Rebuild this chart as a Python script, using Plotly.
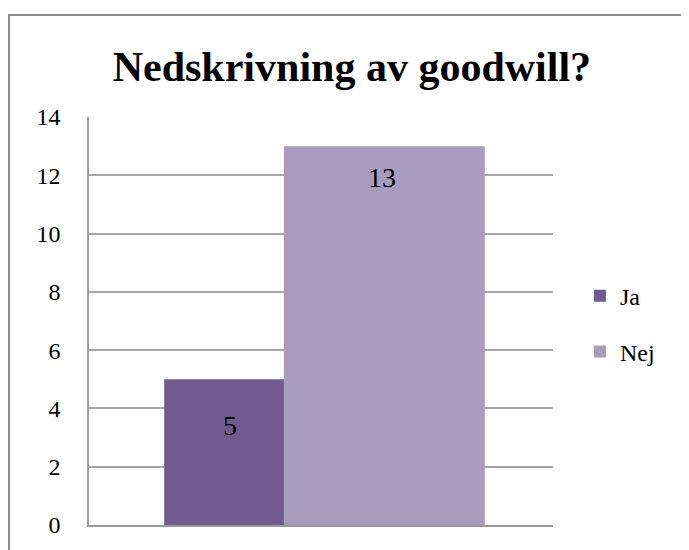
import plotly.graph_objects as go

categories = ["Nedskrivning av goodwill?"]
series_names = ["Ja", "Nej"]
values_ja = [5]
values_nej = [13]
y_ticks = [0, 2, 4, 6, 8, 10, 12, 14]

SERIF = "Liberation Serif"
col_ja = "#715a8f"
col_nej = "#a99bbd"

fig = go.Figure()
fig.add_trace(go.Bar(x=categories, y=values_ja, name=series_names[0],
                     marker=dict(color=col_ja, line=dict(width=0)),
                     offset=-0.338, width=0.431, legend="legend", showlegend=True))
fig.add_trace(go.Bar(x=categories, y=values_nej, name=series_names[1],
                     marker=dict(color=col_nej, line=dict(width=0)),
                     offset=-0.080, width=0.433, legend="legend2", showlegend=True))

# data labels
fig.add_annotation(x=categories[0], y=values_ja[0], text=str(values_ja[0]),
                   showarrow=False, xshift=-91, yshift=-46,
                   font=dict(family=SERIF, size=28, color="black"))
fig.add_annotation(x=categories[0], y=values_nej[0], text=str(values_nej[0]),
                   showarrow=False, xshift=61, yshift=-31,
                   font=dict(family=SERIF, size=28, color="black"))

# outer chart frame (clipped by page edges on right/bottom)
fig.add_shape(type="rect", xref="paper", yref="paper",
              x0=-0.1724, x1=1.35, y0=-0.2, y1=1.25,
              line=dict(color="#8c8c8c", width=2), layer="below")

fig.update_layout(
    width=681, height=542,
    margin=dict(l=81, r=136, t=109, b=25),
    paper_bgcolor="white", plot_bgcolor="white",
    barmode="overlay", showlegend=True,
    title=dict(text="<b>Nedskrivning av goodwill?</b>", x=0.505, xanchor="center",
               y=0.893, yanchor="middle",
               font=dict(family=SERIF, size=42, color="black")),
    font=dict(family=SERIF, color="black"),
    xaxis=dict(showticklabels=False, showgrid=False, showline=True,
               linecolor="#999999", linewidth=2, fixedrange=True),
    yaxis=dict(range=[0, 14], tickvals=y_ticks, showgrid=True,
               gridcolor="#a6a6a6", gridwidth=1.5, showline=True,
               linecolor="#999999", linewidth=1.5, zeroline=False,
               ticks="", ticklabelstandoff=22,
               tickfont=dict(family=SERIF, size=24, color="black")),
    legend=dict(x=1.058, y=0.561, xanchor="left", yanchor="middle",
                font=dict(family=SERIF, size=24, color="black"),
                bgcolor="rgba(0,0,0,0)"),
    legend2=dict(x=1.058, y=0.424, xanchor="left", yanchor="middle",
                 font=dict(family=SERIF, size=24, color="black"),
                 bgcolor="rgba(0,0,0,0)"),
)

fig.write_html("out.html")
